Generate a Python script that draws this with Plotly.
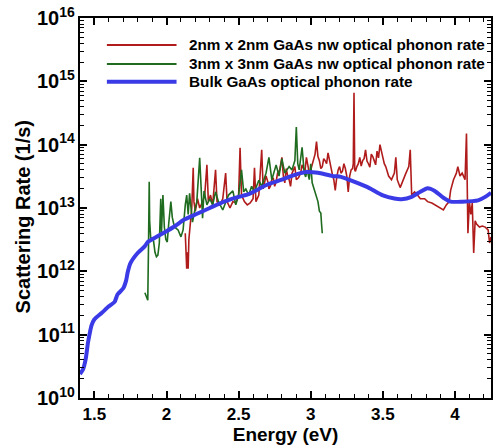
import plotly.graph_objects as go

# ---------------- data ----------------
bulk_energy = [1.40, 1.42, 1.44, 1.455, 1.47, 1.48, 1.50, 1.55, 1.60, 1.64, 1.66, 1.70, 1.72,
               1.73, 1.75, 1.80, 1.85, 1.87, 1.90, 1.95, 2.00, 2.06, 2.12, 2.20, 2.30, 2.40,
               2.50, 2.57, 2.64, 2.70, 2.80, 2.90, 2.97, 3.05, 3.15, 3.21, 3.30, 3.40, 3.50,
               3.58, 3.63, 3.70, 3.76, 3.81, 3.86, 3.92, 3.97, 4.05, 4.16, 4.21, 4.25]
bulk_rate = [2.4e10, 2.8e10, 4.2e10, 7.4e10, 1.12e11, 1.4e11, 1.75e11, 2.2e11, 2.8e11, 3.3e11,
             4.3e11, 5.4e11, 7.2e11, 9.5e11, 1.35e12, 1.95e12, 2.5e12, 2.9e12, 3.2e12, 3.7e12,
             4.3e12, 5.2e12, 6.5e12, 7.9e12, 1.0e13, 1.26e13, 1.5e13, 1.66e13, 2.0e13, 2.35e13,
             2.8e13, 3.4e13, 3.7e13, 3.6e13, 3.2e13, 3.1e13, 2.6e13, 2.1e13, 1.58e13, 1.41e13,
             1.38e13, 1.5e13, 1.8e13, 2.05e13, 1.86e13, 1.45e13, 1.26e13, 1.26e13, 1.32e13,
             1.5e13, 1.74e13]

nw3_energy = [1.850, 1.855, 1.865, 1.870, 1.875, 1.880, 1.883, 1.890, 1.900, 1.910, 1.920, 1.930,
              1.940, 1.950, 1.960, 1.965, 1.975, 1.985, 1.995, 2.005, 2.015, 2.030, 2.040, 2.050,
              2.065, 2.080, 2.100, 2.115, 2.130, 2.140, 2.150, 2.160, 2.170, 2.180, 2.195, 2.210,
              2.230, 2.240, 2.250, 2.260, 2.280, 2.300, 2.320, 2.340, 2.360, 2.390, 2.410, 2.430,
              2.460, 2.480, 2.500, 2.520, 2.535, 2.550, 2.570, 2.590, 2.610, 2.640, 2.660, 2.690,
              2.710, 2.730, 2.760, 2.780, 2.800, 2.820, 2.850, 2.870, 2.890, 2.900, 2.910, 2.920,
              2.940, 2.955, 2.965, 2.975, 2.990, 3.000, 3.010, 3.020, 3.030, 3.040, 3.050, 3.060,
              3.070, 3.075, 3.080]
nw3_rate = [4.6e11, 4.2e11, 3.6e11, 3.5e11, 2.5e12, 2.6e13, 6.3e12, 3.4e12, 3.3e12, 3.0e12, 2.0e12,
            1.7e12, 1.8e12, 2.8e12, 1.4e13, 4.0e12, 1.6e13, 5.0e12, 3.2e12, 2.9e12, 5.6e12, 1.26e13,
            7.1e12, 5.6e12, 4.8e12, 4.5e12, 3.5e12, 4.5e12, 1.12e13, 1.6e13, 7.9e12, 1.7e13, 1.0e13,
            6.0e12, 8.9e12, 1.26e13, 6.2e13, 1.6e13, 6.9e12, 1.86e13, 1.12e13, 1.4e13, 1.12e13,
            1.8e13, 1.26e13, 9.3e12, 1.26e13, 1.6e13, 1.86e13, 1.12e13, 1.6e13, 4.0e13, 1.8e13,
            2.0e13, 1.6e13, 2.2e13, 1.8e13, 2.75e13, 2.2e13, 3.55e13, 6.3e13, 2.8e13, 4.8e13,
            3.2e13, 6.0e13, 3.55e13, 4.5e13, 4.0e13, 5.6e13, 1.9e14, 5.0e13, 4.0e13, 9.1e13,
            3.55e13, 3.1e13, 4.0e13, 2.8e13, 5.0e13, 2.5e13, 2.1e13, 1.8e13, 1.5e13, 1.26e13,
            8.9e12, 8.3e12, 5.6e12, 4.0e12]

nw2_energy = [2.130, 2.140, 2.145, 2.150, 2.155, 2.165, 2.175, 2.185, 2.190, 2.200, 2.215, 2.230,
              2.250, 2.265, 2.280, 2.290, 2.305, 2.320, 2.340, 2.350, 2.370, 2.390, 2.410, 2.420,
              2.440, 2.460, 2.480, 2.500, 2.510, 2.520, 2.540, 2.560, 2.580, 2.600, 2.610, 2.620,
              2.640, 2.660, 2.670,
              2.690, 2.705, 2.710, 2.720, 2.730, 2.740, 2.750, 2.760, 2.770, 2.785, 2.800, 2.810,
              2.820, 2.830, 2.840, 2.850, 2.860, 2.870, 2.880, 2.890, 2.900, 2.915, 2.930, 2.940,
              2.950, 2.960, 2.970, 2.980, 2.990, 3.000, 3.010, 3.020, 3.030, 3.040, 3.050, 3.060,
              3.070, 3.080, 3.090, 3.100, 3.110, 3.120, 3.130, 3.140, 3.150, 3.160, 3.170, 3.180,
              3.190, 3.200, 3.210, 3.220, 3.230, 3.240, 3.250, 3.260, 3.270, 3.280, 3.290, 3.295,
              3.300, 3.305, 3.310, 3.320, 3.330, 3.340, 3.350, 3.360, 3.370, 3.380, 3.390, 3.400,
              3.410, 3.420, 3.430, 3.440, 3.450, 3.460, 3.470, 3.480, 3.490, 3.500, 3.510, 3.520,
              3.530, 3.540, 3.560,
              3.580, 3.590, 3.600, 3.620, 3.640, 3.660, 3.680, 3.690, 3.700, 3.720,
              3.740, 3.760, 3.790, 3.810, 3.840, 3.860, 3.880, 3.900, 3.920, 3.940, 3.960, 3.970,
              3.990, 4.010, 4.020, 4.035, 4.050, 4.070, 4.080, 4.090, 4.100, 4.110, 4.120, 4.130,
              4.140, 4.150, 4.170, 4.190, 4.210, 4.230, 4.240, 4.250]
nw2_rate = [4.0e12, 1.1e12, 2.0e12, 1.1e12, 3.2e12, 6.3e12, 1.0e13, 4.3e13, 1.26e13, 8.9e12, 1.4e13,
            1.0e13, 1.26e13, 1.6e13, 4.8e13, 1.26e13, 1.6e13, 1.12e13, 4.0e13, 1.26e13, 1.12e13,
            1.4e13, 3.55e13, 1.26e13, 1.0e13, 1.26e13, 1.2e13, 1.6e13, 8.9e13, 1.6e13, 1.26e13,
            1.12e13, 1.2e13, 1.4e13, 4.3e13, 1.26e13, 1.6e13, 8.3e13, 2.0e13,
            3.2e13, 2.5e13, 2.0e13, 2.2e13, 2.8e13, 3.0e13, 2.2e13, 2.6e13, 3.55e13, 4.0e13, 6.3e13,
            3.2e13, 2.5e13, 4.2e13, 3.2e13, 2.8e13, 2.2e13, 3.5e13, 4.0e13, 4.5e13, 2.8e13, 3.0e13,
            3.55e13, 4.8e13, 4.2e13, 3.8e13, 6.3e13, 4.4e13, 3.55e13, 4.0e13, 5.0e13, 6.0e13,
            7.1e13, 1.12e14, 6.5e13, 5.6e13, 4.2e13, 4.5e13, 6.0e13, 5.6e13, 5.0e13, 7.4e13,
            5.5e13, 4.0e13, 3.4e13, 2.8e13, 1.9e13, 3.0e13, 4.0e13, 4.5e13, 3.55e13, 3.8e13,
            5.0e13, 4.2e13, 3.2e13, 1.8e13, 3.2e13, 4.0e13, 4.2e13, 5.0e13, 6.6e14, 4.0e13,
            3.8e13, 4.5e13, 5.0e13, 6.3e13, 4.6e13, 5.6e13, 6.0e13, 8.3e13, 5.5e13, 5.0e13,
            4.4e13, 7.1e13, 6.5e13, 5.6e13, 4.8e13, 7.9e13, 6.2e13, 1.0e14, 7.5e13, 6.3e13,
            5.0e13, 4.5e13, 3.8e13, 3.2e13, 2.8e13,
            3.55e13, 6.3e13, 2.8e13, 2.1e13, 2.8e13, 3.55e13, 4.5e13, 8.3e13, 1.6e13, 1.8e13,
            1.6e13, 1.4e13, 1.4e13, 1.26e13, 1.2e13, 1.12e13, 1.05e13, 1.0e13, 9.3e12, 1.12e13,
            1.26e13, 1.9e13, 2.8e13, 3.55e13, 4.5e13, 3.2e13, 3.55e13, 2.8e13, 1.5e14, 4.0e12,
            1.26e13, 7.9e12, 1.2e13, 1.95e12, 6.3e12, 5.6e12, 5.0e12, 5.2e12, 5.0e12, 4.5e12,
            2.8e12, 3.5e12]

series_names = ["2nm x 2nm GaAs nw optical phonon rate",
                "3nm x 3nm GaAs nw optical phonon rate",
                "Bulk GaAs optical phonon rate"]

x_tickvals = [1.5, 2, 2.5, 3, 3.5, 4]
x_ticktext = ["1.5", "2", "2.5", "3", "3.5", "4"]

# ---------------- styling ----------------
RED = "#b01c1c"
GREEN = "#1f6b1f"
BLUE = "#3a3ae6"
FONT = "Liberation Sans, Arial, sans-serif"

fig = go.Figure()
fig.add_trace(go.Scatter(x=nw2_energy, y=nw2_rate, mode="lines",
                         line=dict(color=RED, width=1.6), name=series_names[0]))
fig.add_trace(go.Scatter(x=nw3_energy, y=nw3_rate, mode="lines",
                         line=dict(color=GREEN, width=1.6), name=series_names[1]))
fig.add_trace(go.Scatter(x=bulk_energy, y=bulk_rate, mode="lines",
                         line=dict(color=BLUE, width=4, shape="spline", smoothing=0.6),
                         name=series_names[2]))

# manual legend (long line samples as in the reference)
leg_colors = [RED, GREEN, BLUE]
leg_widths = [2, 2, 4]
leg_y = [0.929, 0.879, 0.832]
for name, col, w, yy in zip(series_names, leg_colors, leg_widths, leg_y):
    fig.add_shape(type="line", xref="paper", yref="paper",
                  x0=0.0654, x1=0.2349, y0=yy, y1=yy,
                  line=dict(color=col, width=w))
    fig.add_annotation(xref="paper", yref="paper", x=0.2615, y=yy,
                       xanchor="left", yanchor="middle", showarrow=False,
                       text=name, font=dict(family=FONT, size=15.3, color="black", weight="bold"))

# y-axis title as annotation to match its position
fig.add_annotation(xref="paper", yref="paper", x=-0.1380, y=0.476, textangle=-90,
                   xanchor="center", yanchor="middle", showarrow=False,
                   text="Scattering Rate (1/s)",
                   font=dict(family=FONT, size=20, color="black", weight="bold"))

axis_common = dict(showline=True, linecolor="black", linewidth=2, mirror="ticks",
                   ticks="inside", ticklen=7, tickwidth=2, tickcolor="black",
                   showgrid=False, zeroline=False)

fig.update_xaxes(range=[1.4, 4.25], tickvals=x_tickvals, ticktext=x_ticktext,
                 tickfont=dict(family=FONT, size=17, color="black", weight="bold"),
                 minor=dict(ticks="inside", ticklen=4, tickwidth=1, tickcolor="black",
                            dtick=0.1, tick0=1.4, showgrid=False),
                 title=dict(text="Energy (eV)", standoff=2,
                            font=dict(family=FONT, size=19, color="black", weight="bold")),
                 **axis_common)
fig.update_yaxes(type="log", range=[10, 16], dtick=1, exponentformat="power",
                 tickfont=dict(family=FONT, size=16, color="black", weight="bold"),
                 minor=dict(ticks="inside", ticklen=4, tickwidth=1, tickcolor="black",
                            dtick="D1", showgrid=False),
                 **axis_common)

fig.update_layout(width=495, height=446, margin=dict(l=80, r=2, t=18, b=48),
                  plot_bgcolor="white", paper_bgcolor="white", showlegend=False)

fig.write_html("out.html")
